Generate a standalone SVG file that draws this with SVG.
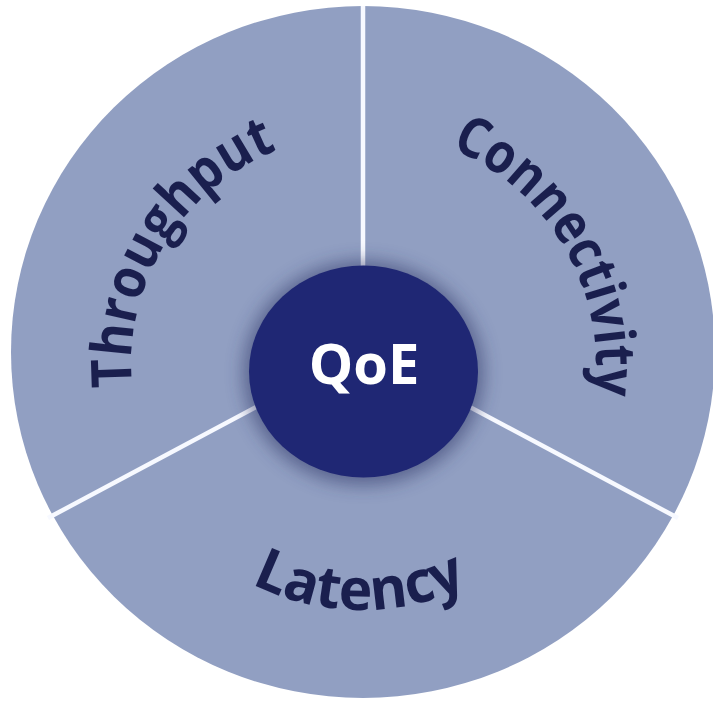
<svg xmlns="http://www.w3.org/2000/svg" xmlns:xlink="http://www.w3.org/1999/xlink" width="713" height="701" viewBox="0 0 713 701">
  <defs>
    <filter id="glow" x="-30%" y="-30%" width="160%" height="160%">
      <feGaussianBlur stdDeviation="9"/>
    </filter>
    <filter id="soft" x="-5%" y="-5%" width="110%" height="110%">
      <feGaussianBlur stdDeviation="0.6"/>
    </filter>
    <path id="pThroughput" d="M132.1,387.1 A231,231 0 0 1 277,150.2"/>
    <path id="pConnectivity" d="M450.8,148.5 A234,234 0 0 1 593.8,396.8"/>
    <path id="pLatency" d="M251.2,583.5 A245,245 0 0 0 469,585.4"/>
    <style>
      .seg { font-family: "Open Sans", "DejaVu Sans", sans-serif; font-weight: 700; fill: #1a1f4e; }
      .div { stroke: #f7f9ff; stroke-width: 4.5; stroke-linecap: butt; fill: none; }
      .core { font-family: "Open Sans", "DejaVu Sans", sans-serif; font-weight: 700; fill: #ffffff; }
    </style>
  </defs>

  <g id="wheel">
    <ellipse cx="363" cy="352" rx="352" ry="346" fill="#919fc2"/>
  </g>

  <g id="connectors" filter="url(#soft)">
    <line class="div" x1="363" y1="6" x2="363" y2="350"/>
    <line class="div" x1="363" y1="350" x2="48" y2="518"/>
    <line class="div" x1="363" y1="350" x2="678" y2="518"/>
  </g>

  <g id="throughput">
    <text class="seg" font-size="56"><textPath href="#pThroughput" xlink:href="#pThroughput" textLength="298" lengthAdjust="spacingAndGlyphs">Throughput</textPath></text>
  </g>

  <g id="connectivity">
    <text class="seg" font-size="56"><textPath href="#pConnectivity" xlink:href="#pConnectivity" textLength="306" lengthAdjust="spacingAndGlyphs">Connectivity</textPath></text>
  </g>

  <g id="latency">
    <text class="seg" font-size="58"><textPath href="#pLatency" xlink:href="#pLatency" textLength="224" lengthAdjust="spacingAndGlyphs">Latency</textPath></text>
  </g>

  <g id="qoe">
    <ellipse cx="363.5" cy="373" rx="120" ry="112" fill="#2a3163" opacity="0.55" filter="url(#glow)"/>
    <ellipse cx="363.5" cy="371.5" rx="114.5" ry="106" fill="#1f2774"/>
    <text class="core" x="364" y="384" font-size="56" text-anchor="middle">QoE</text>
  </g>
</svg>
